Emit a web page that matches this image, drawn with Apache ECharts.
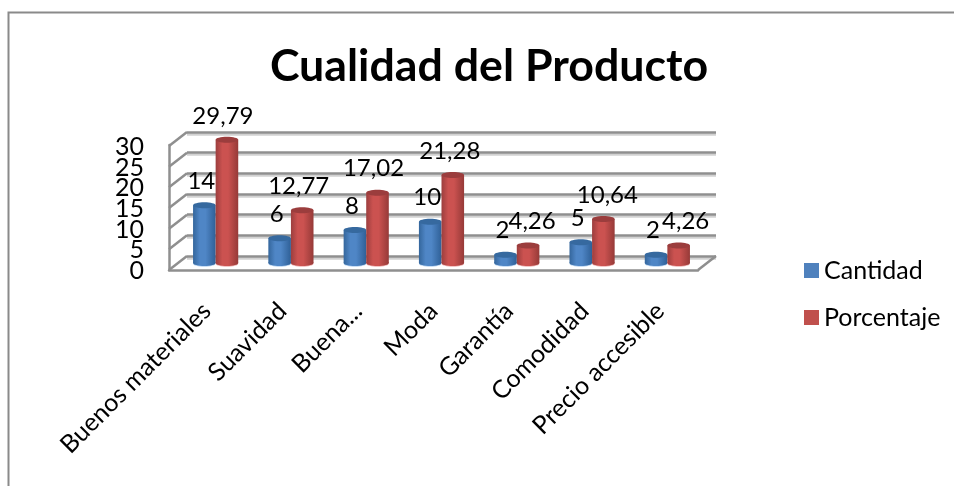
<!DOCTYPE html>
<html>
<head>
<meta charset="utf-8">
<style>html,body{margin:0;padding:0;background:#fff}#c{width:954px;height:486px}</style>
<script src="https://cdn.jsdelivr.net/npm/echarts@6/dist/echarts.min.js"></script>
</head>
<body>
<div id="c"></div>
<script>
const titleText = 'Cualidad del Producto';
const categories = ['Buenos materiales','Suavidad','Buena...','Moda','Garantía','Comodidad','Precio accesible'];
const cantidad = [14,6,8,10,2,5,2];
const porcentaje = [29.79,12.77,17.02,21.28,4.26,10.64,4.26];
const yTicks = [0,5,10,15,20,25,30];

const FONT = 'Lato';
const depthX = -18, depthY = 14;
// hand-placed label nudges in the source chart (px)
const redLabelNudge = [-4,-3.5,-4,-3,4,4,7];

function cylinder(side, c1, c2, c3, top, foot) {
  return function (params, api) {
    const i = api.value(0), v = api.value(1);
    const p = api.coord([i, v]), b = api.coord([i, 0]);
    const w = api.size([1, 0])[0] * 0.3;
    const cx = p[0] + side * w / 2, rx = w / 2, ry = 3;
    const grad = new echarts.graphic.LinearGradient(0, 0, 1, 0, [
      {offset: 0, color: c1}, {offset: 0.3, color: c2}, {offset: 0.55, color: c2}, {offset: 1, color: c3}
    ]);
    const nudge = side < 0 ? -3 : redLabelNudge[i];
    return {type: 'group', children: [
      {type: 'ellipse', shape: {cx: cx, cy: b[1] + 0.8, rx: rx, ry: ry}, style: {fill: foot}},
      {type: 'ellipse', shape: {cx: cx, cy: b[1], rx: rx, ry: ry}, style: {fill: grad}},
      {type: 'rect', shape: {x: cx - rx, y: p[1], width: w, height: b[1] - p[1]}, style: {fill: grad}},
      {type: 'ellipse', shape: {cx: cx, cy: p[1], rx: rx, ry: ry}, style: {fill: top}},
      {type: 'text', style: {
        text: String(v).replace('.', ','), x: cx + nudge, y: p[1] - 24,
        align: 'center', verticalAlign: 'middle', fill: '#000', font: '24px ' + FONT
      }}
    ]};
  };
}

// Side-wall and floor diagonals; the y tick labels sit at the front end of each side-wall diagonal.
function wallTick(params, api) {
  const x = api.value(0), v = api.value(1);
  const p = api.coord([x, v]);
  const fx = p[0] + depthX, fy = p[1] + depthY;
  const children = [{type: 'line', shape: {x1: p[0], y1: p[1], x2: fx, y2: fy},
    style: {stroke: '#8f8f8f', lineWidth: 2.5}}];
  if (x === 0) {
    children.push({type: 'text', style: {text: String(v), x: fx - 25, y: fy + 1,
      align: 'right', verticalAlign: 'middle', fill: '#000', font: '25px ' + FONT}});
  }
  return {type: 'group', children: children};
}

const chart = echarts.init(document.getElementById('c'), null, {renderer: 'canvas'});
chart.setOption({
  animation: false,
  backgroundColor: '#fff',
  title: {text: titleText, left: 484, top: 39, textAlign: 'center',
    textStyle: {fontFamily: FONT, fontWeight: 'bold', fontSize: 44.7, color: '#000'}},
  legend: {orient: 'vertical', left: 804, top: 258, padding: 0, itemWidth: 15, itemHeight: 15, itemGap: 22,
    icon: 'rect', data: ['Cantidad','Porcentaje'], selectedMode: false,
    textStyle: {fontFamily: FONT, fontSize: 25, color: '#000'}},
  grid: [
    {left: 169, top: 145, width: 529, height: 125},
    {left: 178, top: 139, width: 527, height: 124},
    {left: 187, top: 132, width: 529, height: 124}
  ],
  xAxis: [
    {type: 'category', gridIndex: 0, data: categories, axisTick: {show: false},
      axisLine: {lineStyle: {color: '#8f8f8f', width: 2.5}},
      axisLabel: {interval: 0, rotate: 45, margin: 37, fontFamily: FONT, fontSize: 25, color: '#000'}},
    {type: 'category', gridIndex: 1, data: categories, show: false},
    {type: 'value', gridIndex: 2, min: 0, max: 1, show: false}
  ],
  yAxis: [
    {type: 'value', gridIndex: 0, min: 0, max: 30, interval: 5, splitLine: {show: false},
      axisLine: {show: true, lineStyle: {color: '#8f8f8f', width: 2.5}}, axisTick: {show: false},
      axisLabel: {show: false}},
    {type: 'value', gridIndex: 1, min: 0, max: 30, show: false},
    {type: 'value', gridIndex: 2, min: 0, max: 30, interval: 5,
      axisLine: {show: false}, axisTick: {show: false}, axisLabel: {show: false},
      splitLine: {show: true, showMinLine: true, showMaxLine: true, lineStyle: {color: '#8f8f8f', width: 2.5, shadowColor: 'rgba(0,0,0,0.18)', shadowOffsetY: 2, shadowBlur: 0}}}
  ],
  series: [
    {type: 'custom', name: 'wall', xAxisIndex: 2, yAxisIndex: 2, z: 1, silent: true,
      data: yTicks.map(v => [0, v]).concat([[1, 0]]), renderItem: wallTick},
    {type: 'custom', name: 'Cantidad', xAxisIndex: 1, yAxisIndex: 1, z: 3, silent: true,
      itemStyle: {color: '#4F81BD'},
      data: cantidad.map((v, i) => [i, v]),
      renderItem: cylinder(-1, '#34669c', '#4f86c6', '#2f6097', '#36699f', '#b8d4f2')},
    {type: 'custom', name: 'Porcentaje', xAxisIndex: 1, yAxisIndex: 1, z: 3, silent: true,
      itemStyle: {color: '#C0504D'},
      data: porcentaje.map((v, i) => [i, v]),
      renderItem: cylinder(1, '#9c3e3e', '#cb5250', '#963a38', '#9b3d3d', '#f0b4b4')}
  ],
  graphic: [
    {type: 'rect', shape: {x: 8.5, y: 12.5, width: 1200, height: 800}, z: 0, silent: true,
      style: {fill: 'none', stroke: '#8a8a8a', lineWidth: 2}}
  ]
});
</script>
</body>
</html>
